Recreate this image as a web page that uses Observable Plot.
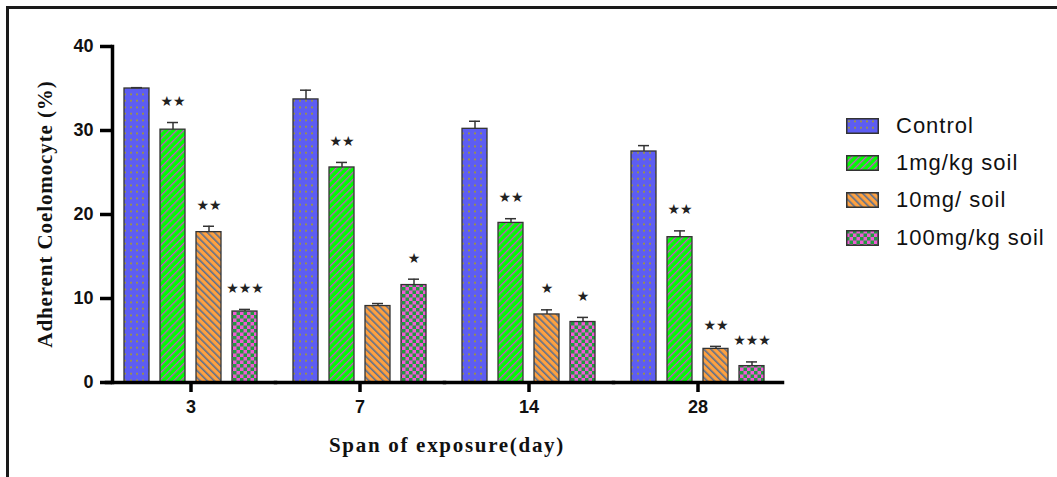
<!DOCTYPE html>
<html>
<head>
<meta charset="utf-8">
<script src="https://cdn.jsdelivr.net/npm/d3@7"></script>
<script src="https://cdn.jsdelivr.net/npm/@observablehq/plot@0.6"></script>
<style>
  html, body { margin: 0; padding: 0; background: #fff; overflow: hidden; }
  #wrap { position: relative; width: 1057px; height: 477px; overflow: hidden; }
  #frame { position: absolute; left: 6px; top: 6px; width: 1100px; height: 520px; border: 3px solid #1a1a1a; box-sizing: border-box; }
  #chart { position: absolute; left: 0; top: 0; }
  .ytitle { position: absolute; left: 45px; top: 214px; transform: translate(-50%, -50%) rotate(-90deg); white-space: nowrap;
            font-family: "Liberation Serif", "Times New Roman", serif; font-weight: bold; font-size: 21px; color: #111; letter-spacing: 0.9px; }
  .xtitle { position: absolute; left: 447px; top: 445px; transform: translate(-50%, -50%); white-space: nowrap;
            font-family: "Liberation Serif", "Times New Roman", serif; font-weight: bold; font-size: 21px; color: #111; letter-spacing: 1.7px; }
  .leg { position: absolute; left: 846px; display: flex; align-items: center; font-family: "Liberation Sans", Arial, sans-serif; font-size: 22px; letter-spacing: 1px; color: #111; }
  .leg svg { margin-right: 17px; }
</style>
</head>
<body>
<svg width="0" height="0" style="position:absolute">
  <defs>
    <pattern id="pat-control" patternUnits="userSpaceOnUse" width="6" height="6.5">
      <rect width="6" height="6.5" fill="#5d5df3"></rect>
      <rect x="2" y="2.5" width="2" height="1.6" fill="#a59c2a"></rect>
    </pattern>
    <pattern id="pat-1mg" patternUnits="userSpaceOnUse" width="5" height="5" patternTransform="rotate(45)">
      <rect width="5" height="5" fill="#00ff00"></rect>
      <rect x="0" y="0" width="1.4" height="5" fill="#c550c8"></rect>
    </pattern>
    <pattern id="pat-10mg" patternUnits="userSpaceOnUse" width="5" height="5" patternTransform="rotate(-45)">
      <rect width="5" height="5" fill="#ffa13f"></rect>
      <rect x="0" y="0" width="1.6" height="5" fill="#5a6f90"></rect>
    </pattern>
    <pattern id="pat-100mg" patternUnits="userSpaceOnUse" width="7" height="7">
      <rect width="7" height="7" fill="#f257d6"></rect>
      <rect x="0" y="0" width="3.5" height="3.5" fill="#1f9e3e"></rect>
      <rect x="3.5" y="3.5" width="3.5" height="3.5" fill="#1f9e3e"></rect>
    </pattern>
  </defs>
</svg>
<div id="wrap">
  <div id="frame"></div>
  <div id="chart"></div>
  <div class="ytitle">Adherent Coelomocyte (%)</div>
  <div class="xtitle">Span of exposure(day)</div>
  <div id="legend"></div>
</div>
<script>
// ---- data ----
const days = ["3", "7", "14", "28"];
const series = ["Control", "1mg/kg soil", "10mg/ soil", "100mg/kg soil"];
const patterns = ["url(#pat-control)", "url(#pat-1mg)", "url(#pat-10mg)", "url(#pat-100mg)"];

const controlMean = [35.0, 33.7, 30.2, 27.5];
const mg1Mean     = [30.1, 25.6, 19.0, 17.3];
const mg10Mean    = [17.9, 9.1, 8.1, 4.0];
const mg100Mean   = [8.45, 11.6, 7.2, 1.95];

const controlErr = [0.1, 1.1, 0.9, 0.7];
const mg1Err     = [0.85, 0.6, 0.5, 0.75];
const mg10Err    = [0.7, 0.3, 0.55, 0.3];
const mg100Err   = [0.25, 0.7, 0.55, 0.5];

const controlSig = ["", "", "", ""];
const mg1Sig     = ["**", "**", "**", "**"];
const mg10Sig    = ["**", "", "*", "**"];
const mg100Sig   = ["***", "*", "*", "***"];

const yTicks = [0, 10, 20, 30, 40];

const means = [controlMean, mg1Mean, mg10Mean, mg100Mean];
const errs = [controlErr, mg1Err, mg10Err, mg100Err];
const sigs = [controlSig, mg1Sig, mg10Sig, mg100Sig];

const rows = [];
days.forEach((day, i) => {
  series.forEach((s, j) => {
    rows.push({day, series: s, value: means[j][i], err: errs[j][i], sig: sigs[j][i]});
  });
});

const plot = Plot.plot({
  width: 1057,
  height: 477,
  marginLeft: 104,
  marginRight: 274,
  marginTop: 46,
  marginBottom: 95,
  style: {fontFamily: "'Liberation Sans', Arial, sans-serif", fontWeight: "bold", fontSize: "18px", color: "#111", background: "transparent"},
  fx: {domain: days, paddingInner: 0, paddingOuter: 0, label: null},
  x: {domain: series, paddingInner: 0.315, paddingOuter: 0.452, axis: null},
  y: {domain: [0, 40], label: null},
  color: {domain: series, range: patterns},
  marks: [
    Plot.barY(rows, {fx: "day", x: "series", y: "value", fill: "series", stroke: "#333", strokeWidth: 1.3}),
    Plot.ruleX(rows, {fx: "day", x: "series", y1: "value", y2: d => d.value + d.err, stroke: "#333", strokeWidth: 1.5}),
    Plot.tickY(rows, {fx: "day", x: "series", y: d => d.value + d.err, stroke: "#333", strokeWidth: 1.5, insetLeft: 7, insetRight: 7}),
    Plot.text(rows, {fx: "day", x: "series", y: d => d.value + d.err, text: d => d.sig.replace(/\*/g, "★"), dy: -21,
      fontFamily: "DejaVu Sans", fontSize: 14, fontWeight: "normal", fill: "#222"}),
    Plot.frame({anchor: "bottom", stroke: "#000", strokeWidth: 3.5}),
    Plot.frame({anchor: "left", facetAnchor: "left", insetLeft: 6, stroke: "#000", strokeWidth: 3.5}),
    Plot.axisY({ticks: yTicks, tickSize: 12, tickPadding: 7, dx: 6, strokeWidth: 3.5, stroke: "#000", label: null, fill: "#111"}),
    Plot.axisFx({anchor: "bottom", tickSize: 10, tickPadding: 8, strokeWidth: 3.5, stroke: "#000", label: null, fill: "#111"})
  ]
});
document.getElementById("chart").appendChild(plot);

// ---- legend ----
const legendTops = [126, 163, 200, 238];
const leg = d3.select("#legend");
series.forEach((s, j) => {
  const item = leg.append("div").attr("class", "leg").style("top", (legendTops[j] - 13) + "px").style("height", "26px");
  const sw = item.append("svg").attr("width", 33).attr("height", 16);
  sw.append("rect").attr("x", 0.75).attr("y", 0.75).attr("width", 31.5).attr("height", 14.5)
    .attr("fill", patterns[j]).attr("stroke", "#333").attr("stroke-width", 1.5);
  item.append("span").text(s);
});
</script>
</body>
</html>
